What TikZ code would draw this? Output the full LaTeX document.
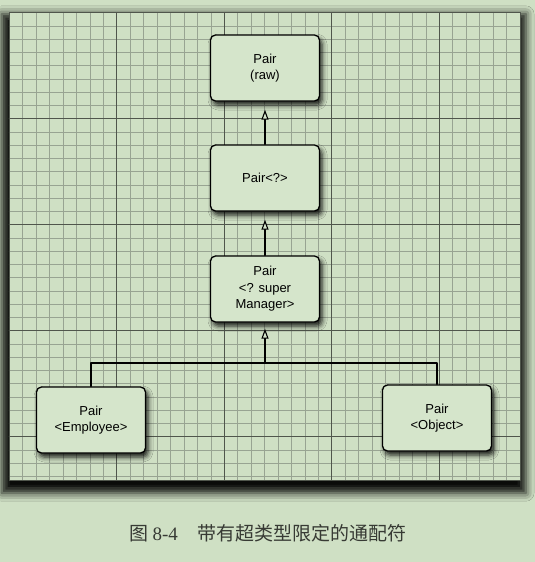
\documentclass[tikz,border=0pt]{standalone}
\usepackage{fontspec}
\setmainfont{Liberation Sans}
\newfontfamily\cjk{Noto Sans CJK SC}
\newfontfamily\capnum{Liberation Serif}
\usetikzlibrary{arrows.meta,shadows.blur}
\definecolor{paper}{RGB}{207,224,196}
\definecolor{boxfill}{RGB}{213,229,203}
\definecolor{minorline}{RGB}{152,164,146}
\definecolor{majorline}{RGB}{80,86,76}
\definecolor{captext}{RGB}{55,58,52}
\begin{document}
\begin{tikzpicture}[x=1pt, y=-1pt, line cap=round, line join=round,
  box/.style={draw=black, line width=1.3pt, fill=boxfill, rounded corners=5pt,
    minimum width=109pt, minimum height=66pt, align=center, inner sep=2pt,
    font=\fontsize{13}{16.5}\selectfont,
    blur shadow={shadow xshift=2.5pt, shadow yshift=-4pt, shadow blur radius=5pt, shadow opacity=90}},
  inherit/.style={-{Triangle[length=10pt, width=7pt, fill=boxfill]}, line width=1.1pt, shorten >=8pt}]
    % 画布
\useasboundingbox (0,0) rectangle (535,562);
\fill[paper] (0,0) rectangle (535,562);
    % 方格纸底板(带阴影)
\fill[paper, blur shadow={shadow xshift=-1pt, shadow yshift=-7pt, shadow scale=1.025, shadow blur radius=8pt, shadow opacity=95}]
  (9.2,12.7) rectangle (520.5,480);
\foreach \i in {1,...,37} {
  \pgfmathsetmacro{\gx}{9.2+\i*13.44}
  \draw[minorline, line width=0.6pt] (\gx,12.7) -- (\gx,480);
}
\foreach \j in {1,...,35} {
  \pgfmathsetmacro{\gy}{12.7+\j*13.25}
  \draw[minorline, line width=0.6pt] (9.2,\gy) -- (520.5,\gy);
}
\foreach \i in {8,16,24,32} {
  \draw[majorline, line width=0.9pt] ({9.2+\i*13.44},12.7) -- ({9.2+\i*13.44},480);
  \draw[majorline, line width=0.9pt] (9.2,{12.7+\i*13.25}) -- (520.5,{12.7+\i*13.25});
}
\draw[majorline, line width=0.9pt] (9.2,12.7) rectangle (520.5,480);
    % 类型节点
\node[box] (raw) at (265,68)  {Pair\\(raw)};
\node[box] (any) at (265,178) {Pair<?>};
\node[box] (sup) at (265,289) {Pair\\<? super\\Manager>};
\node[box] (emp) at (91,420)  {Pair\\<Employee>};
\node[box] (obj) at (437,418) {Pair\\<Object>};
    % 分叉点
\coordinate (fork) at (265,363);
    % 继承关系(空心三角箭头)
\draw[inherit] (any.north) -- (raw.south);
\draw[inherit] (sup.north) -- (any.south);
\draw[inherit, shorten >=6pt] (fork) -- (sup.south);
\draw[line width=1.1pt] (emp.north) |- (fork) -| (obj.north);
    % 图题
\node[inner sep=0pt, text=captext, font=\fontsize{19}{22}\selectfont] (caption) at (268,533)
  {{\cjk 图}\hspace{4pt}{\capnum 8-4}\hspace{19.5pt}{\cjk 带有超类型限定的通配符}};
\end{tikzpicture}
\end{document}
